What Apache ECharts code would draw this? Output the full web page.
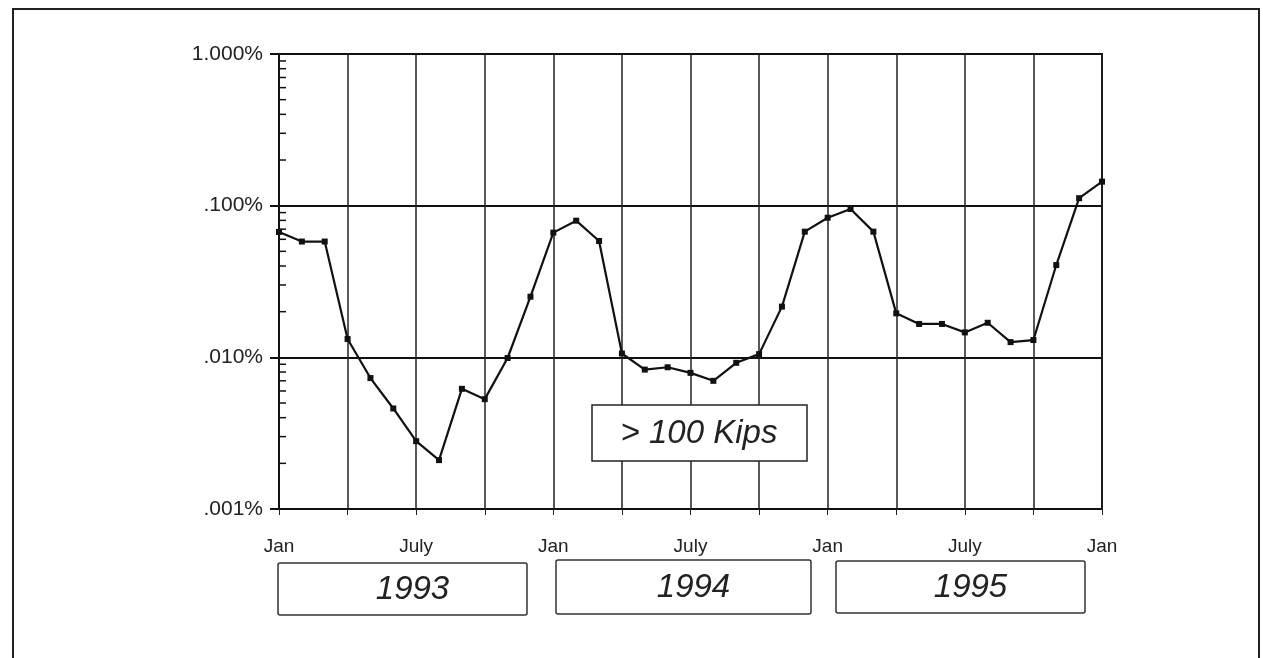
<!DOCTYPE html>
<html>
<head>
<meta charset="utf-8">
<script src="https://cdn.jsdelivr.net/npm/echarts@6/dist/echarts.min.js"></script>
<style>
html,body{margin:0;padding:0;background:#fff;}
#chart{width:1263px;height:658px;}
</style>
</head>
<body>
<div id="chart"></div>
<script>
// Months since Jan 1993 (0 = Jan 1993, 36 = Jan 1996)
const months = [0,1,2,3,4,5,6,7,8,9,10,11,12,13,14,15,16,17,18,19,20,21,22,23,24,25,26,27,28,29,30,31,32,33,34,35,36];
// Percent values (log scale)
const values = [
  0.0671, 0.058, 0.058, 0.0132, 0.0073, 0.0046, 0.0028, 0.0021, 0.0062, 0.0053, 0.0099, 0.0251,
  0.0664, 0.0796, 0.0585, 0.0106, 0.0083, 0.0086, 0.0079, 0.0070, 0.0092, 0.0105, 0.0216, 0.0674,
  0.0833, 0.0951, 0.0674, 0.0195, 0.0166, 0.0166, 0.0146, 0.0169, 0.0126, 0.0130, 0.0406, 0.112,
  0.144
];
const xTickPositions = [0, 6, 12, 18, 24, 30, 36];
const xTickLabels = ['Jan', 'July', 'Jan', 'July', 'Jan', 'July', 'Jan'];
const yTickValues = [0.001, 0.01, 0.1, 1];
const yTickLabels = ['.001%', '.010%', '.100%', '1.000%'];
const minorMultipliers = [2, 3, 4, 5, 6, 7, 8, 9];
const decades = [0.001, 0.01, 0.1];
const yearLabels = ['1993', '1994', '1995'];
const boxLabel = '> 100 Kips';

const minorVals = [];
decades.forEach(d => minorMultipliers.forEach(m => minorVals.push([0, d * m])));

const chart = echarts.init(document.getElementById('chart'));
const narrow = "'Liberation Sans Narrow','Liberation Sans',Arial,sans-serif";
const sans = "'Liberation Sans',Arial,sans-serif";

const yearBoxes = [
  {x: 278, y: 563, w: 249, h: 52},
  {x: 556, y: 560, w: 255, h: 54},
  {x: 836, y: 561, w: 249, h: 52}
];

const graphics = [
  {type: 'rect', shape: {x: 13, y: 9, width: 1246, height: 680}, style: {fill: 'none', stroke: '#222', lineWidth: 2}, z: 0, silent: true}
];
yearBoxes.forEach((b, i) => {
  graphics.push({type: 'rect', shape: {x: b.x, y: b.y, width: b.w, height: b.h, r: 2}, style: {fill: '#fff', stroke: '#333', lineWidth: 1.5}, z: 10});
  graphics.push({type: 'text', x: b.x + b.w / 2 + 10, y: b.y + b.h / 2 + 1, style: {text: yearLabels[i], font: 'italic 33px ' + sans, fill: '#222', align: 'center', verticalAlign: 'middle'}, z: 11});
});
graphics.push({type: 'rect', shape: {x: 592, y: 405, width: 215, height: 56}, style: {fill: '#fff', stroke: '#222', lineWidth: 1.5}, z: 10});
graphics.push({type: 'text', x: 699, y: 434, style: {text: boxLabel, font: 'italic 33px ' + sans, fill: '#222', align: 'center', verticalAlign: 'middle'}, z: 11});

chart.setOption({
  animation: false,
  backgroundColor: '#fff',
  grid: {left: 279, right: 161, top: 54, bottom: 149, show: true, borderColor: '#111', borderWidth: 2, backgroundColor: 'transparent'},
  xAxis: {
    type: 'value', min: 0, max: 36, interval: 3,
    axisLine: {show: true, lineStyle: {color: '#111', width: 2}},
    axisTick: {show: true, length: 6, lineStyle: {color: '#222', width: 1}},
    axisLabel: {
      margin: 28, color: '#222', fontFamily: narrow, fontSize: 19,
      formatter: v => { const i = xTickPositions.indexOf(v); return i >= 0 ? xTickLabels[i] : ''; }
    },
    splitLine: {show: true, lineStyle: {color: '#222', width: 1.5}}
  },
  yAxis: {
    type: 'log', logBase: 10, min: 0.001, max: 1,
    axisLine: {show: true, lineStyle: {color: '#111', width: 2}},
    axisTick: {show: true, length: 9, lineStyle: {color: '#111', width: 2}},
    axisLabel: {
      margin: 16, color: '#222', fontFamily: narrow, fontSize: 21,
      formatter: v => {
        let best = 0, bd = Infinity;
        yTickValues.forEach((t, i) => { const d = Math.abs(Math.log10(v) - Math.log10(t)); if (d < bd) { bd = d; best = i; } });
        return bd < 0.01 ? yTickLabels[best] : '';
      }
    },
    splitLine: {show: true, lineStyle: {color: '#111', width: 2}}
  },
  graphic: graphics,
  series: [
    {
      type: 'custom', coordinateSystem: 'cartesian2d', silent: true, clip: false, z: 3,
      data: minorVals,
      renderItem: (params, api) => {
        const p = api.coord([api.value(0), api.value(1)]);
        return {type: 'line', shape: {x1: p[0], y1: p[1], x2: p[0] + 7, y2: p[1]}, style: {stroke: '#111', lineWidth: 1.5}};
      }
    },
    {
      type: 'line',
      data: months.map((m, i) => [m, values[i]]),
      symbol: 'rect', symbolSize: 6, showSymbol: true,
      lineStyle: {color: '#111', width: 2.2},
      itemStyle: {color: '#111'},
      z: 5
    }
  ]
});
</script>
</body>
</html>
